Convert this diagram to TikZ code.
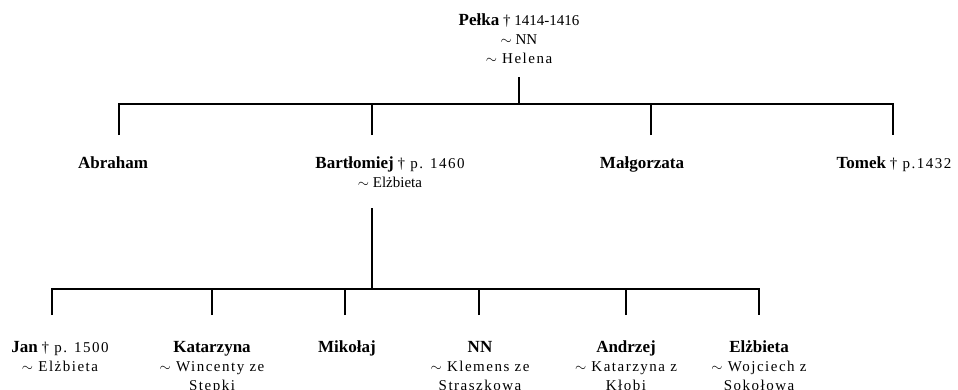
\documentclass[tikz,border=0pt]{standalone}
\usepackage{fontspec}
\setmainfont{Liberation Serif}
\newfontfamily\spcfont[LetterSpace=10]{Liberation Serif}
\newcommand\nm[1]{{\fontsize{17}{19}\selectfont\bfseries #1}}
\newcommand\ls[1]{{\spcfont #1}}
\newcommand\sm{$\sim$ }
\newcommand\pers[1]{\begin{tabular}[t]{@{}c@{}}#1\end{tabular}}
\begin{document}
\begin{tikzpicture}[x=1pt,y=-1pt,
  person/.style={anchor=base,inner sep=0pt,font=\fontsize{15}{19}\selectfont},
  conn/.style={line width=2.4pt,draw=black}]
\useasboundingbox (0,0) rectangle (958,389);
% generation 1
\node[person] (pelka) at (519,25) {\pers{\nm{Pełka} † 1414-1416\\ \sm NN\\ \ls{\sm Helena}}};
% generation 2
\node[person] (abraham) at (113,168) {\pers{\nm{Abraham}}};
\node[person] (bart) at (390,168) {\pers{\nm{Bartłomiej} \ls{† p. 1460}\\ \sm Elżbieta}};
\node[person] (malg) at (642,168) {\pers{\nm{Małgorzata}}};
\node[person] (tomek) at (894,168) {\pers{\nm{Tomek} \ls{† p.1432}}};
% generation 3
\node[person] (jan) at (60,352) {\pers{\nm{Jan} \ls{† p. 1500}\\ \ls{\sm Elżbieta}}};
\node[person] (kat) at (212,352) {\pers{\nm{Katarzyna}\\ \ls{\sm Wincenty ze}\\ \ls{Stepki}}};
\node[person] (mik) at (347,352) {\pers{\nm{Mikołaj}}};
\node[person] (nn) at (480,352) {\pers{\nm{NN}\\ \ls{\sm Klemens ze}\\ \ls{Straszkowa}}};
\node[person] (andrzej) at (626,352) {\pers{\nm{Andrzej}\\ \ls{\sm Katarzyna z}\\ \ls{Kłobi}}};
\node[person] (elz) at (759,352) {\pers{\nm{Elżbieta}\\ \ls{\sm Wojciech z}\\ \ls{Sokołowa}}};
% connectors generation 1 -> 2
\coordinate (p1) at (519,77);
\coordinate (b1) at (519,104);
\coordinate (sA) at (119,135);
\coordinate (sB) at (372,135);
\coordinate (sM) at (651,135);
\coordinate (sT) at (893,135);
\draw[conn] (p1) -- (b1);
\draw[conn] (sA) |- (b1) -| (sT);
\draw[conn] (sB) -- (sB |- b1);
\draw[conn] (sM) -- (sM |- b1);
% connectors generation 2 -> 3
\coordinate (p2) at (372,208);
\coordinate (b2) at (372,289);
\coordinate (c1) at (52,315);
\coordinate (c2) at (212,315);
\coordinate (c3) at (345,315);
\coordinate (c4) at (479,315);
\coordinate (c5) at (626,315);
\coordinate (c6) at (759,315);
\draw[conn] (p2) -- (b2);
\draw[conn] (c1) |- (b2) -| (c6);
\draw[conn] (c2) -- (c2 |- b2);
\draw[conn] (c3) -- (c3 |- b2);
\draw[conn] (c4) -- (c4 |- b2);
\draw[conn] (c5) -- (c5 |- b2);
\end{tikzpicture}
\end{document}
